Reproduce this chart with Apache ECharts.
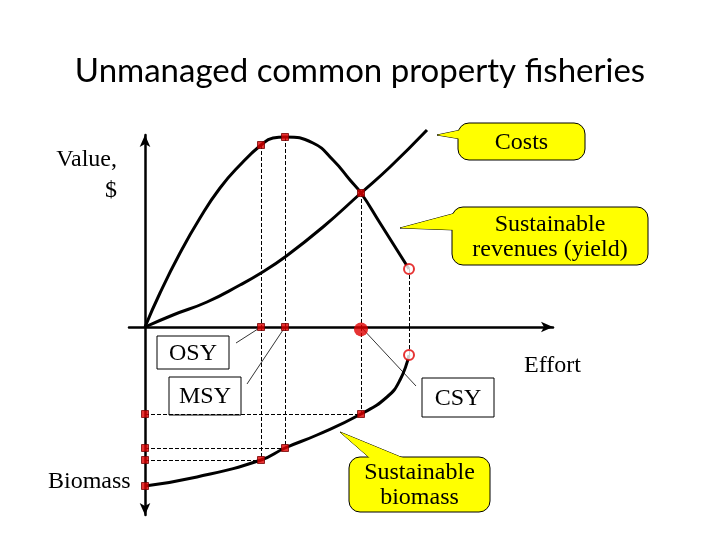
<!DOCTYPE html>
<html>
<head>
<meta charset="utf-8">
<script src="https://cdn.jsdelivr.net/npm/echarts@6/dist/echarts.min.js"></script>
<style>
  html, body { margin: 0; padding: 0; background: #fff; }
  #chart { width: 720px; height: 540px; }
</style>
</head>
<body>
<div id="chart"></div>
<script>
// effort (x) vs value curves
const revenueEffort = [0, 3.75, 8.75, 13.75, 18.75, 23.75, 29, 32, 35, 42, 47, 51.25, 54, 58.75, 66]
const revenue = [0, 8.5, 18.5, 27.25, 34.75, 40.5, 45.5, 47.25, 47.5, 46, 41.75, 36.75, 33.5, 26, 14.5]
const costEffort = [0, 7, 15.5, 23.75, 29, 35, 44.5, 54, 61.25, 70.5]
const cost = [0, 3, 6.25, 10.5, 13.5, 17.5, 25, 33.5, 40, 49.25]
const biomassEffort = [0, 13, 29, 35, 43, 54, 60.5, 63.75, 66]
const biomass = [39.75, 37.5, 33.25, 30.25, 27, 21.75, 17.5, 13.25, 7]

// OSY, MSY, CSY
const keyNames = ['OSY', 'MSY', 'CSY']
const keyEffort = [29, 35, 54]
const keyRevenue = [45.5, 47.5, 33.5]
const keyBiomass = [33.25, 30.25, 21.75]
const endEffort = 66
const endRevenue = 14.5
const endBiomass = 7

const zip = (xs, ys) => xs.map((x, i) => [x, ys[i]])

const chart = echarts.init(document.getElementById('chart'))

const axisLineStyle = { color: '#000', width: 2.5 }
const red = '#e00000'
const serif = 'Liberation Serif'
const font = '24px "' + serif + '"'

const dashed = { type: 'dashed', color: '#000', width: 1 }

const topVerticals = keyEffort.map((x, i) => [{ coord: [x, keyRevenue[i]] }, { coord: [x, 0] }])
topVerticals.push([{ coord: [endEffort, endRevenue] }, { coord: [endEffort, 0] }])
const bottomVerticals = keyEffort.map((x, i) => [{ coord: [x, 0] }, { coord: [x, keyBiomass[i]] }])
bottomVerticals.push([{ coord: [endEffort, 0] }, { coord: [endEffort, endBiomass] }])
const bottomHorizontals = keyEffort.map((x, i) => [{ coord: [0, keyBiomass[i]] }, { coord: [x, keyBiomass[i]] }])

const squareStyle = { color: red, borderColor: '#700', borderWidth: 1 }
const ringStyle = { color: '#fff', borderColor: red, borderWidth: 2 }

chart.setOption({
    animation: false,
    title: {
        text: 'Unmanaged common property fisheries',
        left: 'center',
        top: 50,
        textStyle: { fontFamily: 'Lato', fontSize: 33, fontWeight: 'normal', color: '#000' }
    },
    grid: [
        { left: 129, right: 167, top: 135, height: 192 },
        { left: 129, right: 167, top: 327, height: 188 }
    ],
    xAxis: [
        {
            gridIndex: 0, type: 'value', min: -4, max: 102,
            axisLine: { show: true, onZero: true, symbol: ['none', 'arrow'], symbolSize: [8, 12], lineStyle: axisLineStyle },
            axisTick: { show: false }, axisLabel: { show: false }, splitLine: { show: false }
        },
        {
            gridIndex: 1, type: 'value', min: -4, max: 102,
            axisLine: { show: false }, axisTick: { show: false }, axisLabel: { show: false }, splitLine: { show: false }
        }
    ],
    yAxis: [
        {
            gridIndex: 0, type: 'value', min: 0, max: 48,
            axisLine: { show: true, onZero: true, symbol: ['none', 'arrow'], symbolSize: [8, 12], lineStyle: axisLineStyle },
            axisTick: { show: false }, axisLabel: { show: false }, splitLine: { show: false }
        },
        {
            gridIndex: 1, type: 'value', min: 0, max: 47, inverse: true,
            axisLine: { show: true, onZero: true, symbol: ['arrow', 'none'], symbolSize: [8, 12], lineStyle: axisLineStyle },
            axisTick: { show: false }, axisLabel: { show: false }, splitLine: { show: false }
        }
    ],
    series: [
        {
            name: 'Sustainable revenues', type: 'line', xAxisIndex: 0, yAxisIndex: 0,
            data: zip(revenueEffort, revenue), smooth: 0.5, symbol: 'none', clip: false,
            lineStyle: { color: '#000', width: 3 },
            markLine: { silent: true, z: 1, symbol: ['none', 'none'], label: { show: false }, lineStyle: dashed, data: topVerticals }
        },
        {
            name: 'Costs', type: 'line', xAxisIndex: 0, yAxisIndex: 0,
            data: zip(costEffort, cost), smooth: 0.5, symbol: 'none', clip: false,
            lineStyle: { color: '#000', width: 3 }
        },
        {
            name: 'Sustainable biomass', type: 'line', xAxisIndex: 1, yAxisIndex: 1,
            data: zip(biomassEffort, biomass), smooth: 0.5, symbol: 'none', clip: false,
            lineStyle: { color: '#000', width: 3 },
            markLine: { silent: true, z: 1, symbol: ['none', 'none'], label: { show: false }, lineStyle: dashed, data: bottomVerticals.concat(bottomHorizontals) }
        },
        {
            type: 'scatter', xAxisIndex: 0, yAxisIndex: 0, symbol: 'rect', symbolSize: 7, z: 10, clip: false,
            itemStyle: squareStyle,
            data: zip(keyEffort, keyRevenue).concat([[keyEffort[0], 0], [keyEffort[1], 0]])
        },
        {
            type: 'scatter', xAxisIndex: 0, yAxisIndex: 0, symbol: 'circle', symbolSize: 14, z: 12, clip: false,
            itemStyle: { color: red, borderWidth: 0 },
            data: [[keyEffort[2], -0.6]]
        },
        {
            type: 'scatter', xAxisIndex: 0, yAxisIndex: 0, symbol: 'circle', symbolSize: 10, z: 10, clip: false,
            itemStyle: ringStyle,
            data: [[endEffort, endRevenue]]
        },
        {
            type: 'scatter', xAxisIndex: 1, yAxisIndex: 1, symbol: 'rect', symbolSize: 7, z: 10, clip: false,
            itemStyle: squareStyle,
            data: zip(keyEffort, keyBiomass).concat(keyBiomass.map(b => [0, b]), [[0, biomass[0]]])
        },
        {
            type: 'scatter', xAxisIndex: 1, yAxisIndex: 1, symbol: 'circle', symbolSize: 10, z: 10, clip: false,
            itemStyle: ringStyle,
            data: [[endEffort, endBiomass]]
        }
    ]
})

// annotations: boxes, callouts, leader lines
function box(label, x, y, w, h) {
    return {
        type: 'group', z: 20,
        children: [
            { type: 'rect', shape: { x: x, y: y, width: w, height: h }, style: { fill: '#fff', stroke: '#000', lineWidth: 1 } },
            { type: 'text', style: { text: label, x: x + w / 2, y: y + h / 2 + 1, align: 'center', verticalAlign: 'middle', font: font, fill: '#000' } }
        ]
    }
}

function callout(lines, x, y, w, h, tip, b1, b2) {
    const pointer = [tip, b1, b2]
    return {
        type: 'group', z: 20,
        children: [
            { type: 'polygon', z: 1, shape: { points: pointer }, style: { fill: '#ffff00', stroke: '#000', lineWidth: 1 } },
            { type: 'rect', z: 2, shape: { x: x, y: y, width: w, height: h, r: 11 }, style: { fill: '#ffff00', stroke: '#000', lineWidth: 1 } },
            { type: 'polygon', z: 3, shape: { points: pointer }, style: { fill: '#ffff00' } },
            { type: 'text', z: 4, style: { text: lines.join('\n'), x: x + w / 2, y: y + h / 2 + 1, align: 'center', verticalAlign: 'middle', lineHeight: 25, font: font, fill: '#000' } }
        ]
    }
}

function plainText(text, x, y, align) {
    return { type: 'text', z: 20, style: { text: text, x: x, y: y, align: align || 'left', verticalAlign: 'middle', font: font, fill: '#000' } }
}

const osyPt = chart.convertToPixel({ gridIndex: 0 }, [keyEffort[0], 0])
const msyPt = chart.convertToPixel({ gridIndex: 0 }, [keyEffort[1], 0])
const csyPt = chart.convertToPixel({ gridIndex: 0 }, [keyEffort[2], 0])

const thin = { stroke: '#000', lineWidth: 0.8 }

chart.setOption({
    graphic: [
        { type: 'line', z: 1, shape: { x1: 236, y1: 343, x2: osyPt[0], y2: osyPt[1] }, style: thin },
        { type: 'line', z: 1, shape: { x1: 247, y1: 384, x2: msyPt[0], y2: msyPt[1] }, style: thin },
        { type: 'line', z: 1, shape: { x1: csyPt[0], y1: csyPt[1], x2: 416, y2: 386 }, style: thin },
        box(keyNames[0], 157, 336, 72, 33),
        box(keyNames[1], 169, 377, 72, 38),
        box(keyNames[2], 422, 378, 72, 39),
        callout(['Costs'], 458, 123, 127, 37, [437, 135], [461, 130], [461, 139]),
        callout(['Sustainable', 'revenues (yield)'], 452, 207, 196, 58, [400, 228], [456, 213], [456, 230]),
        callout(['Sustainable', 'biomass'], 349, 457, 141, 55, [340, 432], [372, 460], [408, 460]),
        plainText('Value,', 117, 160, 'right'),
        plainText('$', 117, 191, 'right'),
        plainText('Effort', 524, 366),
        plainText('Biomass', 48, 482)
    ]
})
</script>
</body>
</html>
